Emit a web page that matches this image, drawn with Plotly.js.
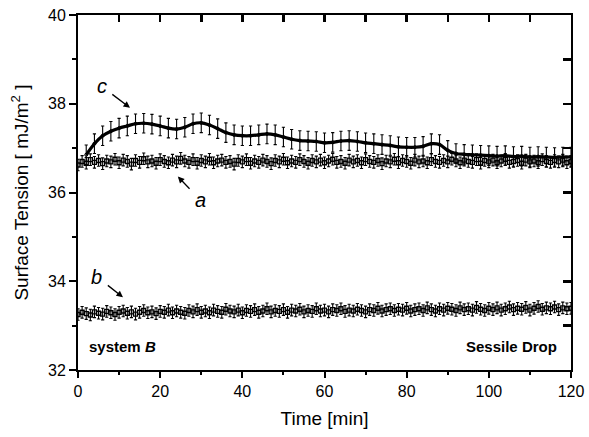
<!DOCTYPE html>
<html><head><meta charset="utf-8">
<script src="https://cdn.plot.ly/plotly-3.0.1.min.js"></script>
<style>html,body{margin:0;padding:0;background:#fff}#g{width:589px;height:437px}</style>
</head><body><div id="g"></div>
<script>
const timeAB = [];
for (let i = 0; i <= 120; i++) timeAB.push(i);
const seriesA = [
36.62,36.70,36.66,36.74,36.68,36.72,36.65,36.71,36.69,36.75,
36.67,36.73,36.70,36.64,36.72,36.68,36.76,36.69,36.71,36.66,
36.74,36.70,36.67,36.73,36.69,36.77,36.71,36.68,36.74,36.66,
36.72,36.69,36.75,36.67,36.71,36.73,36.68,36.70,36.64,36.72,
36.69,36.74,36.66,36.71,36.68,36.73,36.70,36.65,36.72,36.69,
36.75,36.67,36.71,36.68,36.74,36.70,36.66,36.72,36.69,36.73,
36.67,36.71,36.75,36.68,36.70,36.66,36.73,36.69,36.72,36.67,
36.74,36.70,36.68,36.72,36.65,36.71,36.69,36.75,36.67,36.72,
36.70,36.66,36.73,36.69,36.71,36.67,36.74,36.70,36.68,36.72,
36.69,36.75,36.71,36.67,36.73,36.70,36.68,36.74,36.66,36.72,
36.69,36.73,36.67,36.71,36.75,36.68,36.70,36.72,36.66,36.73,
36.69,36.71,36.67,36.74,36.70,36.68,36.72,36.69,36.73,36.67,
36.70];
const seriesB = [
33.25,33.30,33.27,33.24,33.31,33.28,33.26,33.32,33.29,33.25,
33.30,33.33,33.28,33.31,33.26,33.30,33.34,33.29,33.31,33.27,
33.32,33.30,33.35,33.29,33.33,33.30,33.28,33.34,33.31,33.36,
33.30,33.33,33.29,33.35,33.32,33.30,33.37,33.33,33.31,33.35,
33.29,33.34,33.32,33.36,33.30,33.33,33.38,33.31,33.34,33.32,
33.36,33.30,33.35,33.33,33.37,33.31,33.34,33.32,33.38,33.33,
33.35,33.31,33.36,33.34,33.38,33.32,33.35,33.33,33.37,33.34,
33.31,33.36,33.34,33.39,33.33,33.36,33.38,33.34,33.37,33.35,
33.39,33.33,33.36,33.38,33.34,33.40,33.36,33.33,33.38,33.35,
33.39,33.37,33.34,33.40,33.36,33.38,33.35,33.41,33.37,33.34,
33.39,33.36,33.40,33.35,33.38,33.42,33.36,33.39,33.37,33.41,
33.35,33.39,33.43,33.37,33.40,33.38,33.42,33.36,33.40,33.38,
33.39];
const timeC = [2,4,6,8,10,12,14,16,18,20,22,24,26,28,30,32,34,36,38,40,
42,44,46,48,50,52,54,56,58,60,62,64,66,68,70,72,74,76,78,80,
82,84,86,88,90,92,94,96,98,100,102,104,106,108,110,112,114,116,118,120];
const seriesC = [36.85,37.10,37.28,37.38,37.45,37.50,37.55,37.56,37.54,37.50,
37.45,37.43,37.47,37.55,37.57,37.52,37.44,37.35,37.30,37.28,
37.28,37.30,37.32,37.30,37.25,37.20,37.17,37.16,37.15,37.12,
37.13,37.16,37.17,37.15,37.12,37.10,37.08,37.06,37.03,37.02,
37.02,37.04,37.10,37.08,36.95,36.88,36.86,36.85,36.84,36.83,
36.82,36.83,36.81,36.82,36.80,36.81,36.80,36.79,36.80,36.80];
const errA = 0.13, errB = 0.13, errC = 0.22;
const xTicks = [0,20,40,60,80,100,120];
const yTicks = [32,34,36,38,40];
const xTicksTop = [0,10,20,30,40,50,60,70,80,90,100,110,120];
const yTicksRight = [32,33,34,35,36,37,38,39,40];

const F = 'Liberation Sans, Arial, sans-serif';
const errStyle = (v) => ({type:'constant', value:v, color:'#000', thickness:1.1, width:1.6});
const traces = [
  {x: timeAB, y: seriesA, mode:'markers', type:'scatter', name:'a',
   marker:{symbol:'square-open', size:4, color:'#000', line:{width:1.4}}, error_y: errStyle(errA)},
  {x: timeAB, y: seriesB, mode:'markers', type:'scatter', name:'b',
   marker:{symbol:'square-open', size:4, color:'#000', line:{width:1.4}}, error_y: errStyle(errB)},
  {x: timeC, y: seriesC, mode:'lines+markers', type:'scatter', name:'c', xaxis:'x2', yaxis:'y2',
   line:{shape:'spline', width:3.2, color:'#000'},
   marker:{symbol:'circle-open', size:3, color:'#000'}, error_y: errStyle(errC)}
];
const layout = {
  width:589, height:437, showlegend:false,
  paper_bgcolor:'#fff', plot_bgcolor:'rgba(0,0,0,0)',
  margin:{l:78, r:18, t:15, b:67},
  font:{family:F, color:'#000', size:16},
  xaxis:{range:[0,120], tickvals:xTicks, ticks:'outside', ticklen:6, tickwidth:2, tickcolor:'#000',
    showline:true, linewidth:2, linecolor:'#000', showgrid:false, zeroline:false,
    minor:{ticks:'outside', ticklen:3, tickwidth:2, tickcolor:'#000', dtick:10, tick0:0},
    tickfont:{size:16, family:F},
    title:{text:'Time [min]', font:{size:19, family:F}, standoff:12}},
  yaxis:{range:[32,40], tickvals:yTicks, ticks:'outside', ticklen:7, tickwidth:2, tickcolor:'#000',
    showline:true, linewidth:2, linecolor:'#000', showgrid:false, zeroline:false,
    minor:{ticks:'outside', ticklen:4, tickwidth:2, tickcolor:'#000', dtick:1, tick0:32},
    tickfont:{size:16, family:F},
    title:{text:'Surface Tension [ mJ/m<sup>2</sup> ]', font:{size:19, family:F}, standoff:14}},
  xaxis2:{range:[0,120], overlaying:'x', side:'top', anchor:'y2', tickmode:'array', tickvals:xTicksTop,
    ticks:'inside', ticklen:7, tickwidth:2.5, tickcolor:'#000', showticklabels:false, showline:true, linewidth:2, linecolor:'#000',
    showgrid:false, zeroline:false},
  yaxis2:{range:[32,40], overlaying:'y', side:'right', anchor:'x2', tickmode:'array', tickvals:yTicksRight,
    ticks:'inside', ticklen:8, tickwidth:2.5, tickcolor:'#000', showticklabels:false, showline:true, linewidth:2, linecolor:'#000',
    showgrid:false, zeroline:false},
  annotations:[
    {x:12.66, y:37.91, ax:5.8, ay:38.39, axref:'x', ayref:'y', text:'<i>c</i>', font:{size:20, family:F},
     showarrow:true, arrowhead:2, arrowsize:1, arrowwidth:1.3, arrowcolor:'#000', startstandoff:5},
    {x:24.3, y:36.36, ax:29.7, ay:35.84, axref:'x', ayref:'y', text:'<i>a</i>', font:{size:20, family:F},
     showarrow:true, arrowhead:2, arrowsize:1, arrowwidth:1.3, arrowcolor:'#000', startstandoff:5},
    {x:10.95, y:33.64, ax:4.6, ay:34.1, axref:'x', ayref:'y', text:'<i>b</i>', font:{size:20, family:F},
     showarrow:true, arrowhead:2, arrowsize:1, arrowwidth:1.3, arrowcolor:'#000', startstandoff:5},
    {x:2.2, y:32.52, xanchor:'left', text:'<b>system <i>B</i></b>', showarrow:false, font:{size:15, family:F}},
    {x:117, y:32.52, xanchor:'right', text:'<b>Sessile Drop</b>', showarrow:false, font:{size:15, family:F}}
  ]
};
Plotly.newPlot('g', traces, layout, {displayModeBar:false, staticPlot:true});
</script></body></html>
